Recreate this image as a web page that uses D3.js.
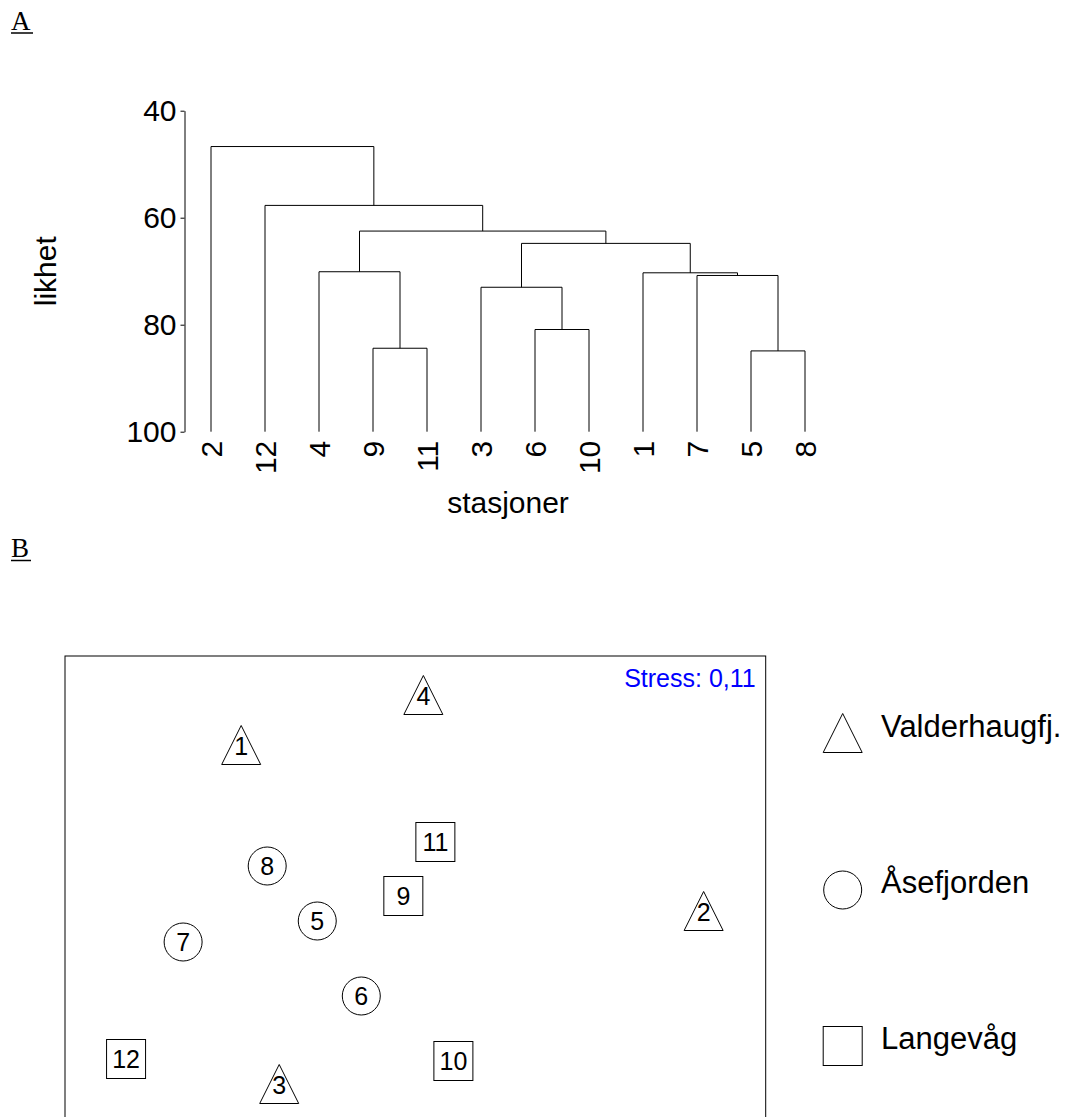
<!DOCTYPE html>
<html>
<head>
<meta charset="utf-8">
<script src="https://cdn.jsdelivr.net/npm/d3@7"></script>
<style>
  html, body { margin: 0; padding: 0; background: #fff; }
  svg { display: block; }
  text { font-family: "Liberation Sans", Arial, sans-serif; fill: #000; }
</style>
</head>
<body>
<svg id="chart" width="1066" height="1117"></svg>
<script>
// ---------- Data ----------
// Panel A: dendrogram (leaf order as plotted, merges like R's hclust merge matrix)
const leafOrder = ["2", "12", "4", "9", "11", "3", "6", "10", "1", "7", "5", "8"];
// negative = station (leaf), positive = earlier merge (1-based); third value = similarity (likhet)
const mergeLeft  = [-9, -5, -6, -3, -4, -7, -1, 4, 5, -12, -2];
const mergeRight = [-11, -8, -10, 3, 1, 2, 6, 7, 8, 9, 10];
const mergeHeight = [84.4, 84.9, 80.9, 73.0, 70.1, 70.8, 70.3, 64.8, 62.5, 57.7, 46.7];
const yTicks = [40, 60, 80, 100];

// Panel B: MDS ordination
const stations = ["1", "2", "3", "4", "5", "6", "7", "8", "9", "10", "11", "12"];
const mds1 = [-0.87, 1.44, -0.68, 0.04, -0.49, -0.27, -1.16, -0.74, -0.06, 0.19, 0.10, -1.445];
const mds2 = [0.75, -0.08, -0.945, 1.0, -0.125, -0.50, -0.23, 0.15, 0.0, -0.825, 0.27, -0.815];
const area = ["V", "V", "V", "V", "A", "A", "A", "A", "L", "L", "L", "L"];
const groupKeys = ["V", "A", "L"];
const groupNames = ["Valderhaugfj.", "Åsefjorden", "Langevåg"];
const groupShapes = ["triangle", "circle", "square"];
const stressLabel = "Stress: 0,11";

// ---------- Drawing ----------
const svg = d3.select("#chart");
svg.append("rect").attr("width", 1066).attr("height", 1117).attr("fill", "#fff");

// panel letters
function panelLetter(label, x, y, ulen) {
  svg.append("text").attr("x", x).attr("y", y)
    .style("font-family", "'Liberation Serif', 'Times New Roman', serif")
    .style("font-size", "27px").text(label);
  svg.append("line").attr("x1", x).attr("x2", x + ulen)
    .attr("y1", y + 3.5).attr("y2", y + 3.5)
    .attr("stroke", "#000").attr("stroke-width", 1.5);
}
panelLetter("A", 11, 29.5, 22);
panelLetter("B", 11, 557, 20);

// ---- Dendrogram ----
const y = d3.scaleLinear().domain([40, 100]).range([110.7, 431.7]);
const x = d3.scalePoint().domain(leafOrder).range([211, 805]);

const yAxis = d3.axisLeft(y).tickValues(yTicks).tickSize(4).tickSizeOuter(0).tickPadding(4);
const gAx = svg.append("g").attr("transform", "translate(184.5,0)").call(yAxis);
gAx.select(".domain").attr("stroke", "#000");
gAx.selectAll(".tick line").attr("stroke", "#000");
gAx.selectAll(".tick text").style("font-size", "30px")
  .style("font-family", "'Liberation Sans', Arial, sans-serif").attr("fill", "#000");

const nodePos = [];
function childPos(c) {
  if (c < 0) return { x: x(String(-c)), h: 100 };
  return nodePos[c - 1];
}
const dend = svg.append("g").attr("fill", "none").attr("stroke", "#000").attr("stroke-width", 1);
mergeHeight.forEach((h, i) => {
  const a = childPos(mergeLeft[i]);
  const b = childPos(mergeRight[i]);
  const p = d3.path();
  p.moveTo(a.x, y(a.h));
  p.lineTo(a.x, y(h));
  p.lineTo(b.x, y(h));
  p.lineTo(b.x, y(b.h));
  dend.append("path").attr("d", p.toString());
  nodePos.push({ x: (a.x + b.x) / 2, h: h });
});

// leaf labels
svg.append("g").selectAll("text").data(leafOrder).join("text")
  .attr("transform", d => `translate(${x(d)},${y(100) + 9}) rotate(-90)`)
  .attr("text-anchor", "end").attr("dy", "0.35em")
  .style("font-size", "30px").text(d => d);

svg.append("text").attr("x", 508).attr("y", 513)
  .attr("text-anchor", "middle").style("font-size", "30px").text("stasjoner");
svg.append("text").attr("transform", `translate(56,${(y(40) + y(100)) / 2}) rotate(-90)`)
  .attr("text-anchor", "middle").style("font-size", "30px").text("likhet");

// ---- MDS plot ----
const bx0 = 65, bx1 = 765.7, by0 = 656, by1 = 1130;
const sx = d3.scaleLinear().domain([-1.75, 1.75]).range([bx0, bx1]);
const sy = d3.scaleLinear().domain([1.2, -1.17]).range([by0, by1]);

svg.append("rect").attr("x", bx0).attr("y", by0)
  .attr("width", bx1 - bx0).attr("height", by1 - by0)
  .attr("fill", "none").attr("stroke", "#000").attr("stroke-width", 1);

svg.append("text").attr("x", bx1 - 10).attr("y", 686.5)
  .attr("text-anchor", "end").style("font-size", "25px").attr("fill", "#0000ff")
  .style("fill", "#0000ff").text(stressLabel);

function drawShape(g, shape) {
  if (shape === "triangle") {
    g.append("path").attr("d", "M0,-20.5 L19.5,18.5 L-19.5,18.5 Z");
  } else if (shape === "circle") {
    g.append("circle").attr("r", 19);
  } else {
    g.append("rect").attr("x", -19.5).attr("y", -19.5).attr("width", 39).attr("height", 39);
  }
}

const pts = svg.append("g").attr("fill", "none").attr("stroke", "#000").attr("stroke-width", 1);
stations.forEach((s, i) => {
  const shape = groupShapes[groupKeys.indexOf(area[i])];
  const g = pts.append("g").attr("transform", `translate(${sx(mds1[i])},${sy(mds2[i])})`);
  drawShape(g, shape);
  g.append("text").attr("text-anchor", "middle").attr("dy", "0.36em")
    .attr("stroke", "none").style("font-size", "25px").text(s);
});

// legend
const legY = [734, 890, 1046];
const leg = svg.append("g");
groupKeys.forEach((k, i) => {
  const g = leg.append("g").attr("transform", `translate(842.7,${legY[i]})`)
    .attr("fill", "none").attr("stroke", "#000").attr("stroke-width", 1);
  drawShape(g, groupShapes[i]);
  leg.append("text").attr("x", 881).attr("y", legY[i] + 3)
    .style("font-size", "31px").text(groupNames[i]);
});
</script>
</body>
</html>
